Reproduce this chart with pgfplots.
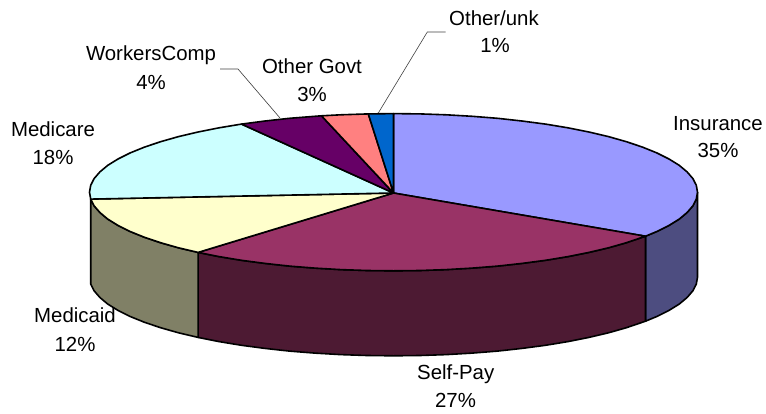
\documentclass[border=0pt]{standalone}
\usepackage{fontspec}
\setmainfont{Liberation Sans}
\usepackage{pgfplots}
\pgfplotsset{compat=1.18}
\tikzset{lbl/.style={font=\fontsize{20.4}{22}\selectfont,anchor=base,inner sep=0pt,text=black}}
\definecolor{cIns}{HTML}{9999FF}
\definecolor{cSelf}{HTML}{993366}
\definecolor{cCaid}{HTML}{FFFFCC}
\definecolor{cCare}{HTML}{CCFFFF}
\definecolor{cWork}{HTML}{660066}
\definecolor{cGov}{HTML}{FF8080}
\definecolor{cUnk}{HTML}{0066CC}
\definecolor{sIns}{HTML}{4D4D80}
\definecolor{sSelf}{HTML}{4D1A33}
\definecolor{sCaid}{HTML}{808066}
\begin{document}
\begin{tikzpicture}
\useasboundingbox (0,0) rectangle (766pt,413pt);
\begin{axis}[
  at={(0,0)},anchor=south west,
  scale only axis,width=766pt,height=413pt,
  xmin=0,xmax=766,ymin=0,ymax=413,y dir=reverse,
  hide axis,clip=false,
  every axis plot/.append style={no markers,sharp plot,draw=black,line width=1.6pt,line join=round},
]
% side walls
\addplot[fill=sIns] coordinates {(697.5,192.2)(696.3,199.1)(692.9,205.8)(687.1,212.5)(679.2,219.1)(669.0,225.4)(656.8,231.5)(645.5,236.2)(645.5,321.2)(656.8,316.5)(669.0,310.4)(679.2,304.1)(687.1,297.5)(692.9,290.8)(696.3,284.1)(697.5,277.2)} -- cycle;
\addplot[fill=sSelf] coordinates {(645.5,236.2)(626.4,242.7)(608.5,247.8)(588.9,252.4)(567.9,256.6)(545.5,260.3)(522.0,263.4)(497.5,266.1)(472.2,268.1)(446.3,269.6)(420.0,270.5)(393.5,270.8)(367.0,270.5)(340.7,269.6)(314.8,268.1)(289.5,266.1)(265.0,263.4)(241.5,260.3)(219.1,256.6)(198.1,252.4)(198.1,337.4)(219.1,341.6)(241.5,345.3)(265.0,348.4)(289.5,351.1)(314.8,353.1)(340.7,354.6)(367.0,355.5)(393.5,355.8)(420.0,355.5)(446.3,354.6)(472.2,353.1)(497.5,351.1)(522.0,348.4)(545.5,345.3)(567.9,341.6)(588.9,337.4)(608.5,332.8)(626.4,327.7)(645.5,321.2)} -- cycle;
\addplot[fill=sCaid] coordinates {(198.1,252.4)(178.5,247.8)(160.6,242.7)(144.5,237.3)(130.2,231.5)(118.0,225.4)(107.8,219.1)(99.9,212.5)(94.1,205.8)(90.7,199.1)(90.7,284.1)(94.1,290.8)(99.9,297.5)(107.8,304.1)(118.0,310.4)(130.2,316.5)(144.5,322.3)(160.6,327.7)(178.5,332.8)(198.1,337.4)} -- cycle;
% top sectors
\addplot[fill=cIns] coordinates {(393.5,193)(393.5,113.6)(420.0,113.9)(446.3,114.8)(472.2,116.3)(497.5,118.3)(522.0,121.0)(545.5,124.1)(567.9,127.8)(588.9,132.0)(608.5,136.6)(626.4,141.7)(642.5,147.1)(656.8,152.9)(669.0,159.0)(679.2,165.3)(687.1,171.9)(692.9,178.6)(696.3,185.3)(697.5,192.2)(696.3,199.1)(692.9,205.8)(687.1,212.5)(679.2,219.1)(669.0,225.4)(656.8,231.5)(645.5,236.2)} -- cycle;
\addplot[fill=cSelf] coordinates {(393.5,193)(645.5,236.2)(626.4,242.7)(608.5,247.8)(588.9,252.4)(567.9,256.6)(545.5,260.3)(522.0,263.4)(497.5,266.1)(472.2,268.1)(446.3,269.6)(420.0,270.5)(393.5,270.8)(367.0,270.5)(340.7,269.6)(314.8,268.1)(289.5,266.1)(265.0,263.4)(241.5,260.3)(219.1,256.6)(198.1,252.4)} -- cycle;
\addplot[fill=cCaid] coordinates {(393.5,193)(198.1,252.4)(178.5,247.8)(160.6,242.7)(144.5,237.3)(130.2,231.5)(118.0,225.4)(107.8,219.1)(99.9,212.5)(94.1,205.8)(90.7,199.1)} -- cycle;
\addplot[fill=cCare] coordinates {(393.5,193)(90.7,199.1)(89.5,192.2)(90.7,185.3)(94.1,178.6)(99.9,171.9)(107.8,165.3)(118.0,159.0)(130.2,152.9)(144.5,147.1)(160.6,141.7)(178.5,136.6)(198.1,132.0)(219.1,127.8)(241.5,124.1)} -- cycle;
\addplot[fill=cWork] coordinates {(393.5,193)(241.5,124.1)(265.0,121.0)(289.5,118.3)(314.8,116.3)(321.5,115.8)} -- cycle;
\addplot[fill=cGov] coordinates {(393.5,193)(321.5,115.8)(340.7,114.8)(368.3,113.9)} -- cycle;
\addplot[fill=cUnk] coordinates {(393.5,193)(368.3,113.9)(393.5,113.6)} -- cycle;
% leader lines
\addplot[line width=0.6pt,draw=black!75] coordinates {(220,69)(238,69)(280,118)};
\addplot[line width=0.6pt,draw=black!75] coordinates {(445.7,32)(427.3,32)(378.3,113)};
% labels
\node[lbl] at (axis cs:718,130) {Insurance};
\node[lbl] at (axis cs:718,157.3) {35\%};
\node[lbl] at (axis cs:494,25) {Other/unk};
\node[lbl] at (axis cs:495,52.3) {1\%};
\node[lbl] at (axis cs:312,73.3) {Other Govt};
\node[lbl] at (axis cs:312,101) {3\%};
\node[lbl] at (axis cs:151,60.7) {WorkersComp};
\node[lbl] at (axis cs:151,89) {4\%};
\node[lbl] at (axis cs:53,136.7) {Medicare};
\node[lbl] at (axis cs:53,164.5) {18\%};
\node[lbl] at (axis cs:75,322.7) {Medicaid};
\node[lbl] at (axis cs:75,351) {12\%};
\node[lbl] at (axis cs:455.7,379) {Self-Pay};
\node[lbl] at (axis cs:455.5,407.3) {27\%};
\end{axis}
\end{tikzpicture}
\end{document}
